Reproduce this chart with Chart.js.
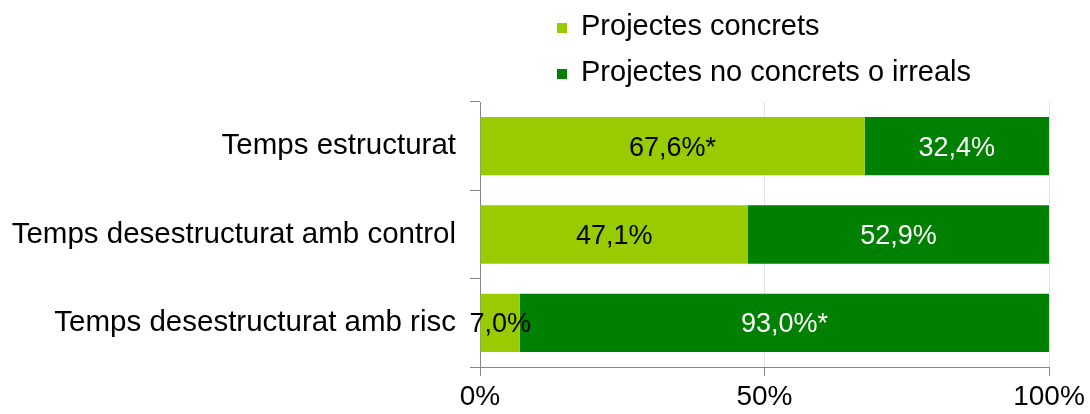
<!DOCTYPE html>
<html>
<head>
<meta charset="utf-8">
<script src="https://cdn.jsdelivr.net/npm/chart.js@4/dist/chart.umd.min.js"></script>
<style>
    html, body { margin: 0; padding: 0; background: #ffffff; }
    #wrap { width: 1090px; height: 414px; }
</style>
</head>
<body>
<div id="wrap"><canvas id="resultChart" width="1090" height="414"></canvas></div>
<script>
// Dades del grafic
const categories = ['Temps estructurat', 'Temps desestructurat amb control', 'Temps desestructurat amb risc'];
const seriesNames = ['Projectes concrets', 'Projectes no concrets o irreals'];
const concrets = [67.6, 47.1, 7.0];
const noConcrets = [32.4, 52.9, 93.0];
const concretsMarks = ['*', '', ''];
const noConcretsMarks = ['', '', '*'];
const tickValues = [0, 50, 100];

const FONT = '"Liberation Sans", Arial, sans-serif';
const lightGreen = '#99cc00';
const darkGreen = '#008000';

// Legenda vertical dibuixada a ma
const legendPlugin = {
    id: 'verticalLegend',
    afterDraw(chart) {
        const ctx = chart.ctx;
        ctx.save();
        ctx.font = '29px ' + FONT;
        ctx.textBaseline = 'middle';
        ctx.textAlign = 'left';
        chart.data.datasets.forEach((ds, i) => {
            const y = 27 + i * 46;
            ctx.fillStyle = ds.backgroundColor;
            ctx.fillRect(557, y - 4, 10, 10);
            ctx.fillStyle = '#000000';
            ctx.fillText(ds.label, 581, y);
        });
        ctx.restore();
    }
};

// Etiquetes de valor dins de les barres
const valueLabels = {
    id: 'valueLabels',
    afterDatasetsDraw(chart) {
        const ctx = chart.ctx;
        ctx.save();
        ctx.font = '27px ' + FONT;
        ctx.textAlign = 'center';
        ctx.textBaseline = 'middle';
        chart.data.datasets.forEach((ds, i) => {
            const meta = chart.getDatasetMeta(i);
            meta.data.forEach((bar, j) => {
                const text = ds.data[j].toFixed(1).replace('.', ',') + '%' + ds.marks[j];
                ctx.fillStyle = ds.textColor;
                ctx.fillText(text, (bar.x + bar.base) / 2, bar.y + 2);
            });
        });
        ctx.restore();
    }
};

const ctx = document.getElementById('resultChart').getContext('2d');
const chartInstance = new Chart(ctx, {
    type: 'bar',
    data: {
        labels: categories,
        datasets: [{
            label: seriesNames[0],
            data: concrets,
            marks: concretsMarks,
            textColor: '#000000',
            backgroundColor: lightGreen,
            barPercentage: 0.66,
            categoryPercentage: 1.0
        }, {
            label: seriesNames[1],
            data: noConcrets,
            marks: noConcretsMarks,
            textColor: '#ffffff',
            backgroundColor: darkGreen,
            barPercentage: 0.66,
            categoryPercentage: 1.0
        }]
    },
    options: {
        indexAxis: 'y',
        responsive: false,
        animation: false,
        layout: { padding: { top: 102, right: 41, left: 0, bottom: 0 } },
        plugins: {
            legend: { display: false },
            tooltip: { enabled: false }
        },
        scales: {
            x: {
                stacked: true,
                min: 0,
                max: 100,
                afterBuildTicks: scale => {
                    scale.ticks = tickValues.map(v => ({ value: v }));
                },
                afterFit: scale => { scale.height = 47; },
                ticks: {
                    callback: v => v + '%',
                    color: '#000000',
                    font: { family: FONT, size: 28 },
                    padding: 4,
                    maxRotation: 0
                },
                grid: {
                    color: '#e3e3e3',
                    tickColor: '#868686',
                    tickLength: 9
                },
                border: { color: '#868686' }
            },
            y: {
                stacked: true,
                afterFit: scale => { scale.width = 480; },
                ticks: {
                    color: '#000000',
                    font: { family: FONT, size: 29.5 },
                    padding: 14
                },
                grid: {
                    offset: true,
                    drawOnChartArea: false,
                    tickColor: '#868686',
                    tickLength: 10
                },
                border: { color: '#868686' }
            }
        }
    },
    plugins: [legendPlugin, valueLabels]
});
</script>
</body>
</html>
